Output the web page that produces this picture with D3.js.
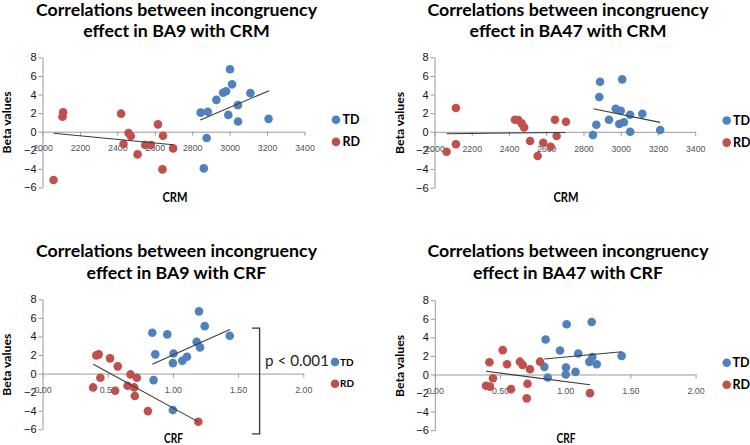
<!DOCTYPE html>
<html><head><meta charset="utf-8">
<script src="https://cdn.jsdelivr.net/npm/d3@7"></script>
<style>body{margin:0;background:#fff}svg{display:block}</style>
</head><body>
<svg id="chart" width="750" height="445"></svg>
<script>
// ---------- data ----------
const seriesNames = ["TD", "RD"];
const yTickValues = [-6, -4, -2, 0, 2, 4, 6, 8];
const crmTickValues = [2000, 2200, 2400, 2600, 2800, 3000, 3200, 3400];
const crfTickValues = [0, 0.5, 1.0, 1.5, 2.0];

// BA9 with CRM
const ba9CrmTdX = [2845, 2862, 2877, 2883, 2929, 2965, 2981, 2993, 3002, 3013, 3044, 3045, 3111, 3208];
const ba9CrmTdY = [2.05, -3.95, -0.68, 2.15, 3.43, 4.2, 4.35, 1.81, 6.73, 5.1, 2.86, 1.1, 4.15, 1.38];
const ba9CrmRdX = [2059, 2107, 2110, 2420, 2433, 2460, 2472, 2508, 2549, 2580, 2617, 2641, 2644, 2698];
const ba9CrmRdY = [-5.2, 1.61, 2.08, 1.94, -1.33, -0.14, -0.47, -2.44, -1.44, -1.44, 0.79, -4.06, -0.43, -1.8];
const ba9CrmTdTrend = [[2843, 1.26], [3211, 4.42]];
const ba9CrmRdTrend = [[2059, -0.17], [2698, -1.4]];

// BA47 with CRM
const ba47CrmTdX = [2851, 2869, 2885, 2889, 2937, 2973, 2992, 3000, 3008, 3017, 3050, 3051, 3116, 3212];
const ba47CrmTdY = [-0.35, 0.76, 3.73, 5.38, 1.3, 2.48, 0.84, 2.26, 5.63, 1.02, 1.83, 0.01, 1.94, 0.19];
const ba47CrmRdX = [2065, 2115, 2115, 2432, 2450, 2468, 2481, 2513, 2554, 2584, 2624, 2647, 2656, 2706];
const ba47CrmRdY = [-2.14, 2.56, -1.34, 1.3, 1.27, 0.91, 0.48, -0.99, -2.6, -1.17, -1.6, 1.3, -0.45, 1.08];
const ba47CrmTdTrend = [[2853, 2.47], [3211, 1.01]];
const ba47CrmRdTrend = [[2065, -0.2], [2704, -0.07]];

// BA9 with CRF
const ba9CrfTdX = [0.842, 0.852, 0.865, 0.957, 1.0, 1.0, 1.005, 1.072, 1.108, 1.182, 1.2, 1.208, 1.244, 1.436];
const ba9CrfTdY = [4.39, -0.7, 2.07, 4.22, 1.13, -3.93, 2.17, 1.38, 1.81, 3.42, 6.7, 2.82, 5.11, 4.07];
const ba9CrfRdX = [0.388, 0.413, 0.431, 0.444, 0.518, 0.557, 0.577, 0.652, 0.675, 0.703, 0.708, 0.723, 0.808, 1.195];
const ba9CrfRdY = [-1.49, 1.96, 2.07, -0.45, 1.64, -1.85, 0.78, -1.31, -0.09, -1.49, -2.42, -0.45, -4.04, -5.19];
const ba9CrfTdTrend = [[0.842, 1.0], [1.436, 4.75]];
const ba9CrfRdTrend = [[0.39, 1.0], [1.195, -5.2]];

// BA47 with CRF
const ba47CrfTdX = [0.84, 0.85, 0.866, 0.96, 1.004, 1.006, 1.011, 1.079, 1.1, 1.185, 1.203, 1.208, 1.242, 1.433];
const ba47CrfTdY = [0.82, 3.77, -0.32, 2.58, 0.0, 0.75, 5.41, 0.28, 2.26, 1.36, 5.66, 1.89, 1.11, 2.0];
const ba47CrfRdX = [0.393, 0.419, 0.423, 0.446, 0.521, 0.554, 0.584, 0.653, 0.674, 0.705, 0.711, 0.73, 0.807, 1.19];
const ba47CrfRdY = [-1.21, 1.32, -1.31, -0.4, 2.62, 1.11, -1.58, 1.38, 1.03, -2.57, -0.99, 0.57, 1.38, -2.01];
const ba47CrfTdTrend = [[0.84, 1.67], [1.433, 2.45]];
const ba47CrfRdTrend = [[0.393, 0.34], [1.19, -1.1]];

const titleLine1 = "Correlations between incongruency";
const titleLines2 = ["effect in BA9 with CRM", "effect in BA47 with CRM", "effect in BA9 with CRF", "effect in BA47 with CRF"];
const yAxisTitle = "Beta values";
const xAxisTitles = ["CRM", "CRM", "CRF", "CRF"];
const annotationText = "p < 0.001";

// ---------- styles / layout ----------
const COLORS = {TD: "#4F81BD", RD: "#C0504D"};
const FONT = "Lato, 'Open Sans', 'DejaVu Sans', sans-serif";
const TICK_FONT = "'Liberation Sans', Arial, sans-serif";
const AXIS_COLOR = "#9a9a9a";

const zip = (xs, ys) => xs.map((x, i) => ({x, y: ys[i]}));

const panels = [
  {xDomain: [2000, 3400], xRange: [42.5, 304.5], yRange: [187.4, 57.4], ticks: crmTickValues, fmt: d3.format("d"),
   td: zip(ba9CrmTdX, ba9CrmTdY), rd: zip(ba9CrmRdX, ba9CrmRdY), tdTrend: ba9CrmTdTrend, rdTrend: ba9CrmRdTrend,
   title2: titleLines2[0], titleX: 176.5, titleY: 15.7, yLabel: [10.5, 122.5], xLabel: [175, 201.5], xTitle: xAxisTitles[0],
   legend: {x: 336, y1: 119.7, y2: 141.9, tx: 342.5, size: 12.5}},
  {xDomain: [2000, 3400], xRange: [434.5, 695.2], yRange: [187.7, 57.3], ticks: crmTickValues, fmt: d3.format("d"),
   td: zip(ba47CrmTdX, ba47CrmTdY), rd: zip(ba47CrmRdX, ba47CrmRdY), tdTrend: ba47CrmTdTrend, rdTrend: ba47CrmRdTrend,
   title2: titleLines2[1], titleX: 568, titleY: 15.7, yLabel: [404, 123], xLabel: [566, 201.7], xTitle: xAxisTitles[1],
   legend: {x: 726.7, y1: 120.5, y2: 142.6, tx: 733, size: 12.5}},
  {xDomain: [0, 2], xRange: [42.5, 303.3], yRange: [429.3, 299.3], ticks: crfTickValues, fmt: d3.format(".2f"),
   td: zip(ba9CrfTdX, ba9CrfTdY), rd: zip(ba9CrfRdX, ba9CrfRdY), tdTrend: ba9CrfTdTrend, rdTrend: ba9CrfRdTrend,
   title2: titleLines2[2], titleX: 176.5, titleY: 257, yLabel: [10.5, 364.7], xLabel: [173.5, 443], xTitle: xAxisTitles[2],
   legend: {x: 335, y1: 362, y2: 383.8, tx: 340, size: 10}},
  {xDomain: [0, 2], xRange: [434.8, 695.6], yRange: [430.2, 300.2], ticks: crfTickValues, fmt: d3.format(".2f"),
   td: zip(ba47CrfTdX, ba47CrfTdY), rd: zip(ba47CrfRdX, ba47CrfRdY), tdTrend: ba47CrfTdTrend, rdTrend: ba47CrfRdTrend,
   title2: titleLines2[3], titleX: 568, titleY: 257, yLabel: [404, 366], xLabel: [566, 442.7], xTitle: xAxisTitles[3],
   legend: {x: 726.7, y1: 362.7, y2: 384.7, tx: 732.5, size: 12.5}}
];

const svg = d3.select("#chart");
svg.append("rect").attr("width", 750).attr("height", 445).attr("fill", "#fff");

// title scale factor so line 1 matches the reference width
const probe = svg.append("text").attr("font-family", FONT).attr("font-weight", "bold")
  .attr("font-size", 17).text(titleLine1);
const natural = probe.node().getComputedTextLength();
probe.remove();
const k = 281 / natural;

panels.forEach((p, idx) => {
  const g = svg.append("g");
  const x = d3.scaleLinear().domain(p.xDomain).range(p.xRange);
  const y = d3.scaleLinear().domain([-6, 8]).range(p.yRange);

  // titles
  [titleLine1, p.title2].forEach((t, i) => {
    const el = g.append("text").attr("x", p.titleX).attr("y", p.titleY + i * 21.6)
      .attr("text-anchor", "middle").attr("font-family", FONT).attr("font-weight", "bold")
      .attr("font-size", 17).attr("fill", "#000").text(t);
    const L = el.node().getComputedTextLength();
    el.attr("textLength", L * k).attr("lengthAdjust", "spacingAndGlyphs");
  });

  // y axis
  const ya = g.append("g").attr("transform", `translate(${x(p.xDomain[0])},0)`)
    .call(d3.axisLeft(y).tickValues(yTickValues).tickSize(4).tickSizeOuter(0).tickPadding(2).tickFormat(d3.format("d")));
  ya.selectAll("text").attr("font-family", TICK_FONT).attr("font-size", 11).attr("fill", "#111");
  ya.selectAll("line").attr("stroke", AXIS_COLOR);
  ya.select(".domain").attr("stroke", AXIS_COLOR);

  // x axis at y = 0
  const xa = g.append("g").attr("transform", `translate(0,${y(0)})`)
    .call(d3.axisBottom(x).tickValues(p.ticks).tickSize(4).tickSizeOuter(0).tickPadding(9.5).tickFormat(p.fmt));
  xa.selectAll("text").attr("font-family", TICK_FONT).attr("font-size", 8.8).attr("fill", "#4a5566");
  xa.selectAll("line").attr("stroke", AXIS_COLOR);
  xa.select(".domain").attr("stroke", AXIS_COLOR);

  // axis titles
  g.append("text").attr("transform", `translate(${p.yLabel[0]},${p.yLabel[1]}) rotate(-90)`)
    .attr("text-anchor", "middle").attr("font-family", FONT).attr("font-weight", "bold")
    .attr("font-size", 11).attr("textLength", 62).attr("lengthAdjust", "spacingAndGlyphs").text(yAxisTitle);
  g.append("text").attr("x", p.xLabel[0]).attr("y", p.xLabel[1]).attr("text-anchor", "middle")
    .attr("font-family", FONT).attr("font-weight", "bold").attr("font-size", 12.5)
    .attr("textLength", idx < 2 ? 25 : 19).attr("lengthAdjust", "spacingAndGlyphs").text(p.xTitle);

  // points
  [["TD", p.td], ["RD", p.rd]].forEach(([name, pts]) => {
    g.append("g").selectAll("circle").data(pts).join("circle")
      .attr("cx", d => x(d.x)).attr("cy", d => y(d.y)).attr("r", 4.3).attr("fill", COLORS[name]);
  });

  // trend lines
  const line = d3.line().x(d => x(d[0])).y(d => y(d[1]));
  [p.tdTrend, p.rdTrend].forEach(t => {
    g.append("path").attr("d", line(t)).attr("stroke", "#3a3a3a").attr("stroke-width", 1.1).attr("fill", "none");
  });

  // legend
  seriesNames.forEach((n, i) => {
    const cy = i === 0 ? p.legend.y1 : p.legend.y2;
    g.append("circle").attr("cx", p.legend.x).attr("cy", cy).attr("r", 4.3).attr("fill", COLORS[n]);
    g.append("text").attr("x", p.legend.tx).attr("y", cy + p.legend.size * 0.36)
      .attr("font-family", FONT).attr("font-weight", "bold").attr("font-size", p.legend.size).text(n);
  });

  // annotation for BA9 CRF
  if (idx === 2) {
    const yTop = y(4.9), yBot = y(-6.5);
    g.append("path").attr("d", `M${252},${yTop}H${259.6}V${yBot}H${252}`)
      .attr("stroke", "#333").attr("stroke-width", 1.3).attr("fill", "none");
    g.append("text").attr("x", 265).attr("y", 366).attr("font-family", "Lato, 'Open Sans', sans-serif")
      .attr("font-size", 15.5).attr("fill", "#222").attr("textLength", 64).attr("lengthAdjust", "spacingAndGlyphs")
      .text(annotationText);
  }
});
</script>
</body></html>
